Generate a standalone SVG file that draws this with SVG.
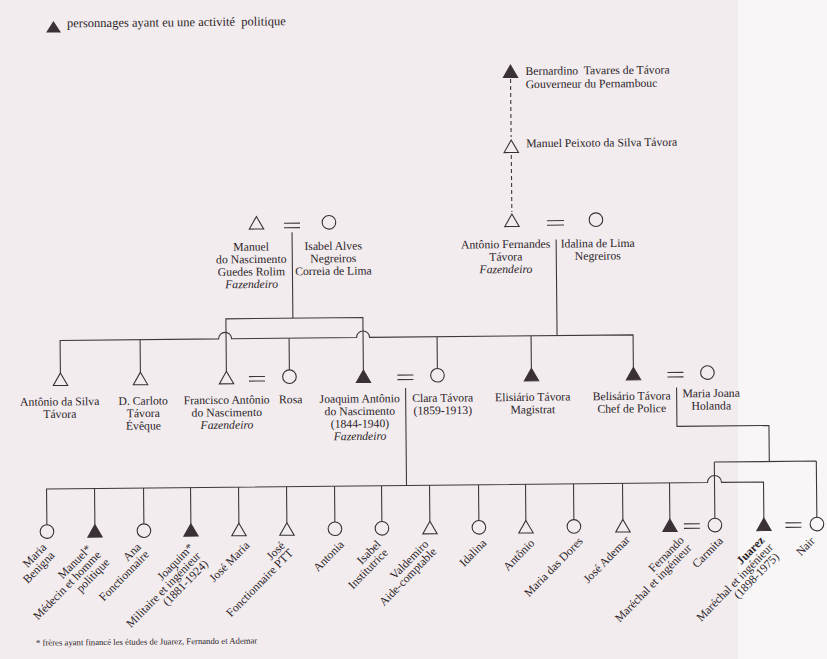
<svg xmlns="http://www.w3.org/2000/svg" width="827" height="659" viewBox="0 0 827 659">
<style>
.t{font-family:"Liberation Serif","Times New Roman",serif;font-size:11.7px;fill:#2b2328;text-anchor:middle}
.st{text-anchor:start}
.l{font-family:"Liberation Serif","Times New Roman",serif;font-size:11.8px;fill:#2b2328;text-anchor:end}
.i{font-style:italic}
.b{font-weight:bold}
.ln{fill:none;stroke:#3d383b;stroke-width:1.1}
.d{stroke-dasharray:4 3}
.s{fill:none;stroke:#333;stroke-width:1.1}
.f{fill:#3a3036;stroke:#3a3036;stroke-width:1}
</style>
<defs>
<path id="tri" d="M0,-6.5 L7.2,6 L-7.2,6 Z"/>
</defs>
<rect x="0" y="0" width="827" height="659" fill="#f2ecee"/>
<rect x="738" y="0" width="89" height="659" fill="#f8f6f7"/>
<g transform="rotate(-0.56 413 330)">
<g id="connectors" class="ln">
<path class="d" d="M513,80 V138 M513,156 V213"/>
<path d="M285,222 H301 M285,226.5 H301 M548,222 H565 M548,226.5 H565"/>
<path d="M293,231 V317 M226,369.5 V317 H363 V369.5 M557,241 V337"/>
<path d="M60,369.5 V337 H218.5 A6.5,6.5 0 0 1 231.5,337 H356.5 A6.5,6.5 0 0 1 369.5,337 H633 V369.5"/>
<path d="M140,337 V369.5 M289,337 V368.7 M437,337 V368.7 M531,337 V369.5"/>
<path d="M248.5,375 H264.5 M248.5,379.5 H264.5 M397,375 H413 M397,379.5 H413 M667,375 H683 M667,379.5 H683"/>
<path d="M405,388 V485.4 M676,390 V429 H768 V465 M713,465 H815 M713,465 V521.2 M815,465 V521.2"/>
<path d="M45,521.2 V485.4 H706 A7,7 0 0 1 720,485.4 H762 V521.5"/>
<path d="M93,485.4 V521.5 M142,485.4 V521.2 M189,485.4 V521.5 M237,485.4 V521.5 M285,485.4 V521.5 M333,485.4 V521.2 M380,485.4 V521.2 M428,485.4 V521.5 M477,485.4 V521.2 M524,485.4 V521.5 M572,485.4 V521.2 M621,485.4 V521.5 M668,485.4 V521.5"/>
<path d="M682,526.5 H698 M682,531 H698 M783.5,526.5 H799.5 M783.5,531 H799.5"/>
</g>
<g id="legend">
<path class="f" d="M56.5,18.5 L63,28.5 L50,28.5 Z"/>
<text class="t st" x="70" y="24" style="font-size:12.5px" xml:space="preserve">personnages ayant eu une activité  politique</text>
</g>
<g id="bernardino"><use href="#tri" class="f" x="513" y="72.5"/>
<text class="t st" x="528" y="76" xml:space="preserve">Bernardino  Tavares de Távora</text>
<text class="t st" x="528" y="89.3">Gouverneur du Pernambouc</text></g>
<g id="manuel-peixoto"><use href="#tri" class="s" x="513" y="147.5"/>
<text class="t st" x="528" y="148.4">Manuel Peixoto da Silva Távora</text></g>
<g id="antonio-fernandes"><use href="#tri" class="s" x="513" y="221.5"/>
<text class="t" x="506.5" y="249">Antônio Fernandes</text><text class="t" x="506.5" y="261.5">Távora</text><text class="t i" x="506.5" y="274">Fazendeiro</text></g>
<g id="idalina-lima"><circle class="s" cx="597" cy="221.5" r="6.8"/>
<text class="t" x="598.5" y="249">Idalina de Lima</text><text class="t" x="598.5" y="261.5">Negreiros</text></g>
<g id="manuel-nascimento"><use href="#tri" class="s" x="257.5" y="221.5"/>
<text class="t" x="252" y="249">Manuel</text><text class="t" x="252" y="261.5">do Nascimento</text><text class="t" x="252" y="274">Guedes Rolim</text><text class="t i" x="252" y="286.5">Fazendeiro</text></g>
<g id="isabel-alves"><circle class="s" cx="330" cy="221.5" r="6.8"/>
<text class="t" x="334" y="249">Isabel Alves</text><text class="t" x="334" y="261.5">Negreiros</text><text class="t" x="334" y="274">Correia de Lima</text></g>
<g id="antonio-silva"><use href="#tri" class="s" x="60" y="376"/>
<text class="t" x="59" y="402">Antônio da Silva</text><text class="t" x="59" y="414.5">Távora</text></g>
<g id="carloto"><use href="#tri" class="s" x="140" y="376"/>
<text class="t" x="142.5" y="402">D. Carloto</text><text class="t" x="142.5" y="414.5">Távora</text><text class="t" x="142.5" y="427">Évêque</text></g>
<g id="francisco"><use href="#tri" class="s" x="226" y="376"/>
<text class="t" x="226" y="402">Francisco Antônio</text><text class="t" x="226" y="414.5">do Nascimento</text><text class="t i" x="226" y="427">Fazendeiro</text></g>
<g id="rosa"><circle class="s" cx="289" cy="375.5" r="6.8"/><text class="t" x="290" y="402">Rosa</text></g>
<g id="joaquim-antonio"><use href="#tri" class="f" x="363" y="376"/>
<text class="t" x="359" y="402">Joaquim Antônio</text><text class="t" x="359" y="414.5">do Nascimento</text><text class="t" x="359" y="427">(1844-1940)</text><text class="t i" x="359" y="439.5">Fazendeiro</text></g>
<g id="clara"><circle class="s" cx="437" cy="375.5" r="6.8"/>
<text class="t" x="442" y="402">Clara Távora</text><text class="t" x="442" y="414.5">(1859-1913)</text></g>
<g id="elisiario"><use href="#tri" class="f" x="531" y="376"/>
<text class="t" x="532" y="402">Elisiário Távora</text><text class="t" x="532" y="414.5">Magistrat</text></g>
<g id="belisario"><use href="#tri" class="f" x="633" y="376"/>
<text class="t" x="631" y="402">Belisário Távora</text><text class="t" x="631" y="414.5">Chef de Police</text></g>
<g id="maria-joana"><circle class="s" cx="707" cy="375.5" r="6.8"/>
<text class="t" x="710.5" y="400">Maria Joana</text><text class="t" x="710.5" y="412.5">Holanda</text></g>
<g id="maria-benigna"><circle class="s" cx="45" cy="528" r="6.8"/>
<text class="l" transform="translate(45,544.5) rotate(-45)">Maria</text><text class="l" transform="translate(53,552.5) rotate(-45)">Benigna</text></g>
<g id="manuel"><use href="#tri" class="f" x="93" y="528"/>
<text class="l" transform="translate(90,546.5) rotate(-45)">Manuel*</text><text class="l" transform="translate(99.5,552.5) rotate(-45)">Médecin et homme</text><text class="l" transform="translate(108,560) rotate(-45)">politique</text></g>
<g id="ana"><circle class="s" cx="142" cy="528" r="6.8"/>
<text class="l" transform="translate(139.5,545) rotate(-45)">Ana</text><text class="l" transform="translate(147.5,552.5) rotate(-45)">Fonctionnaire</text></g>
<g id="joaquim"><use href="#tri" class="f" x="189" y="528"/>
<text class="l" transform="translate(192,546) rotate(-45)">Joaquim*</text><text class="l" transform="translate(199,554.5) rotate(-45)">Militaire et ingénieur</text><text class="l" transform="translate(206.5,562.5) rotate(-45)">(1881-1924)</text></g>
<g id="jose-maria"><use href="#tri" class="s" x="237" y="528"/>
<text class="l" transform="translate(248,544.5) rotate(-45)">José Maria</text></g>
<g id="jose"><use href="#tri" class="s" x="285" y="528"/>
<text class="l" transform="translate(283.5,545) rotate(-45)">José</text><text class="l" transform="translate(291.5,552.5) rotate(-45)">Fonctionnaire PTT</text></g>
<g id="antonia"><circle class="s" cx="333" cy="528" r="6.8"/>
<text class="l" transform="translate(342.5,544.5) rotate(-45)">Antonia</text></g>
<g id="isabel"><circle class="s" cx="380" cy="528" r="6.8"/>
<text class="l" transform="translate(379.5,544.5) rotate(-45)">Isabel</text><text class="l" transform="translate(386.5,553) rotate(-45)">Institutrice</text></g>
<g id="valdemiro"><use href="#tri" class="s" x="428" y="528"/>
<text class="l" transform="translate(427,545) rotate(-45)">Valdemiro</text><text class="l" transform="translate(435,552.5) rotate(-45)">Aide-comptable</text></g>
<g id="idalina"><circle class="s" cx="477" cy="528" r="6.8"/>
<text class="l" transform="translate(485,544.5) rotate(-45)">Idalina</text></g>
<g id="antonio"><use href="#tri" class="s" x="524" y="528"/>
<text class="l" transform="translate(533,545) rotate(-45)">Antônio</text></g>
<g id="maria-dores"><circle class="s" cx="572" cy="528" r="6.8"/>
<text class="l" transform="translate(581.5,543.5) rotate(-45)">Maria das Dores</text></g>
<g id="jose-ademar"><use href="#tri" class="s" x="621" y="528"/>
<text class="l" transform="translate(628.5,542.5) rotate(-45)">José Ademar</text></g>
<g id="fernando"><use href="#tri" class="f" x="668" y="528"/>
<text class="l" transform="translate(682.5,543.5) rotate(-45)">Fernando</text><text class="l" transform="translate(690,551.5) rotate(-45)">Maréchal et ingénieur</text></g>
<g id="carmita"><circle class="s" cx="713" cy="528" r="6.8"/>
<text class="l" transform="translate(721.5,544.5) rotate(-45)">Carmita</text></g>
<g id="juarez"><use href="#tri" class="f" x="762" y="528"/>
<text class="l b" transform="translate(763,544.5) rotate(-45)">Juarez</text><text class="l" transform="translate(771.5,551.5) rotate(-45)">Maréchal et ingénieur</text><text class="l" transform="translate(777.5,561) rotate(-45)">(1898-1975)</text></g>
<g id="nair"><circle class="s" cx="815" cy="528" r="6.8"/>
<text class="l" transform="translate(813.5,545.5) rotate(-45)">Nair</text></g>
<g id="footnote"><text class="t st" x="33" y="642" style="font-size:8.7px">* frères ayant financé les études de Juarez, Fernando et Ademar</text></g>
</g>
</svg>
